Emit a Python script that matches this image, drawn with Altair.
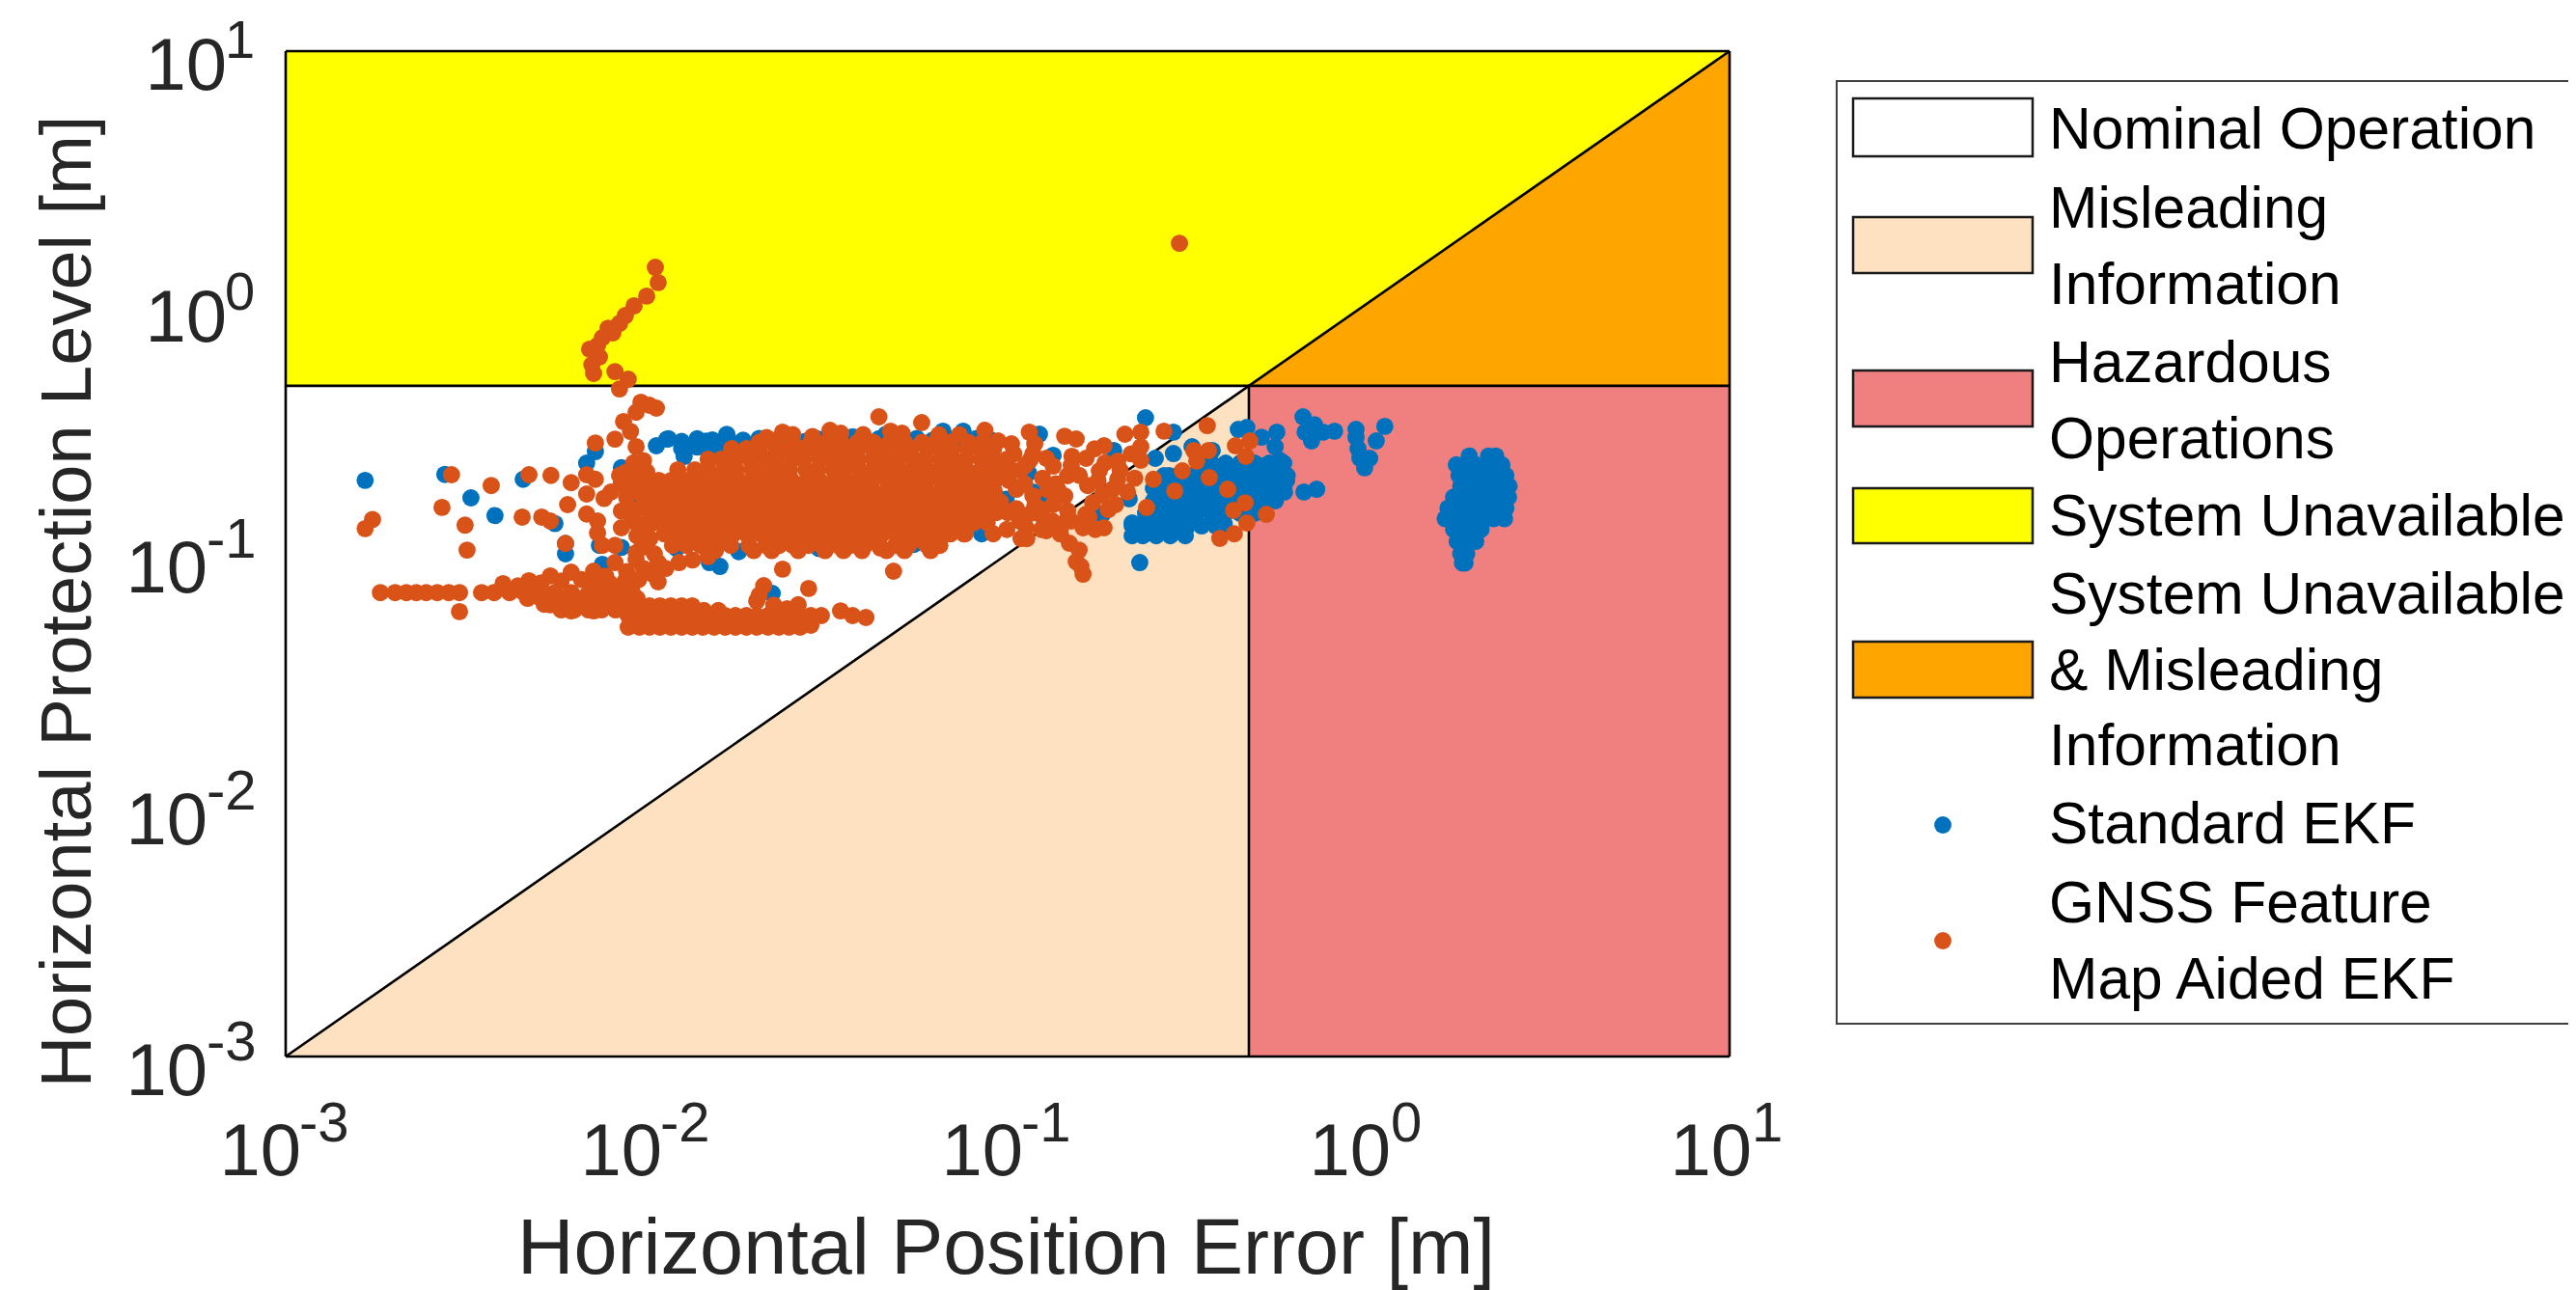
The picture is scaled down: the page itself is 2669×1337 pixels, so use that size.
import altair as alt
import pandas as pd

FONT = "Liberation Sans"
BLUE = "#0072BD"
RED = "#D95319"
DARK = "#262626"
LIMIT = 0.466
LOW, HIGH = 0.001, 10

ticks_neg = [0.001, 0.01, 0.1]
exps_neg = ["-3", "-2", "-1"]
ticks_pos = [1, 10]
exps_pos = ["0", "1"]

# Sparse points: Standard EKF (x, y)
ekf_xy = [
 (.00166,.196),(.00276,.207),(.00326,.167),(.0038,.142),(.00455,.198),(.00557,.132),(.00596,.1),(.00596,.11),
 (.0074,.108),(.00851,.106),(.00754,.0908),(.00682,.2296),(.00721,.255),(.00851,.22),(.01138,.286),(.01064,.269),
 (.01377,.274),(.0146,.281),(.01667,.299),(.0158,.274),(.0127,.244),(.01493,.0923),(.01596,.0891),(.02228,.0696),
 (.0351,.274),(.0372,.292),(.046,.299),(.0662,.3076),(.0753,.3076),(.1225,.2992),(.1337,.2466),(.1175,.1762),
 (.0847,.1202),(.01,.2),(.0095,.16),(.0121,.105),(.018,.102),(.03,.105),(.055,.109),
 (.1142,.21),(.099,.165),(.128,.16),(.1828,.1435),(.2172,.1656),(.1968,.2576),
 (.241,.3476),(.288,.3048),(.288,.2506),(.2565,.24),(.4355,.3126),(.46,.3184),(.505,.2912),(.557,.3048),
 (.551,.2667),(.5675,.2356),(.505,.2234),(.593,.1959),(.551,.198),(.585,.1762),(.5176,.1714),(.4745,.1807),
 (.5176,.157),(.4227,.21),(.376,.2234),(.4355,.1807),(.387,.198),(.3428,.21),(.3428,.1807),(.3048,.21),
 (.28,.2046),(.2565,.192),(.3048,.1807),(.28,.1714),(.2565,.1656),(.3243,.157),(.288,.1514),(.369,.1514),
 (.4227,.161),(.263,.139),(.3243,.1374),(.241,.135),(.2213,.1327),(.263,.1236),(.227,.1202),(.3013,.1315),
 (.398,.1315),(.49,.1514),(.2323,.0923),(.369,.2576),(.3243,.2667),
 (.658,.3508),(.708,.3266),(.667,.3048),(.695,.2812),(.748,.3048),(.805,.3076),(.923,.3126),(.923,.291),
 (1.05,.2812),(1.109,.3214),(.935,.2618),(1.007,.24),(.975,.2198),(.946,.24),(.718,.1807),(.662,.1762),
 (.0115,.287),(.0125,.28),(.0138,.287),(.0152,.284),(.0168,.288),(.0185,.283),(.0205,.288),(.0225,.281),(.025,.286),
 (.0275,.28),(.03,.286),(.033,.283),(.036,.288),(.04,.285),(.044,.287),(.05,.281),(.056,.288),(.062,.283),(.068,.288),
 (.075,.282),(.082,.288),(.09,.283),(.0125,.262),(.0138,.266),(.0152,.26),(.0168,.265),
]

# Blue clouds drawn as one list per HPL level
ekf_mid_y = [.2296, .2046, .1824, .1626, .1449, .1291, .118]
ekf_mid_x = [
 [.3664,.4018,.4406,.4831,.5309,.582],
 [.2712,.2955,.3232,.3531,.3862,.4224,.4619,.505,.5521,.595],
 [.2535,.278,.3048,.334,.3664,.4018,.4406,.4831,.5309,.582],
 [.2535,.2712,.2955,.3232,.3531,.3862,.4224,.4619,.505,.5521],
 [.241,.2535,.278,.3048,.334,.3664,.4018,.4406,.4831],
 [.2213,.241,.2632,.2876,.3151,.3447,.3772,.398],
 [.2213,.2368,.2581,.2822,.3106],
]
ekf_far_y = [.245, .226, .205, .186, .168, .152, .138, .125, .112, .10, .092]
ekf_far_x = [
 [1.9, 2.15, 2.25],
 [1.75, 1.85, 1.98, 2.1, 2.22, 2.34],
 [1.78, 1.9, 2.02, 2.14, 2.26, 2.4],
 [1.8, 1.92, 2.05, 2.17, 2.3, 2.45],
 [1.72, 1.84, 1.96, 2.08, 2.2, 2.33, 2.44],
 [1.66, 1.78, 1.9, 2.03, 2.15, 2.27, 2.4],
 [1.63, 1.74, 1.86, 1.98, 2.1, 2.22, 2.38],
 [1.72, 1.84, 1.96, 2.05],
 [1.76, 1.88, 1.98],
 [1.8, 1.87],
 [1.82, 1.85],
]

# Sparse points: GNSS Feature Map Aided EKF (x, y)
map_tail_xy = [
 (.01057,1.38),(.01076,1.2),(.01,1.06),(.00923,.97),(.00873,.887),(.00841,.826),(.00782,.79),(.00806,.757),
 (.00754,.724),(.00731,.675),(.00695,.652),(.0074,.607),(.00705,.565),(.00713,.522),(.00817,.531),(.00889,.495),
 (.00841,.453),(.00964,.401),(.01064,.38),(.01018,.39),(.00935,.366),(.00863,.336),(.00902,.307),(.00721,.276),
 (.00817,.286),(.00935,.267),(.2992,1.72),
]
map_left_xy = [
 (.00288,.2065),(.00371,.187),(.00271,.153),(.00314,.13),(.00318,.1035),(.00174,.137),(.00166,.126),(.00472,.2065),
 (.00543,.205),(.00618,.192),(.00452,.14),(.00512,.14),(.00541,.135),(.00604,.157),(.00596,.11),(.00682,.2065),
 (.00721,.198),(.00682,.173),(.00762,.166),(.00682,.144),(.00731,.135),(.00731,.121),(.00754,.108),(.00817,.108),
 (.00851,.127),(.00796,.176),(.00841,.205),(.00851,.148),(.00935,.101),(.00964,.198),(.00989,.171),(.0092,.23),
 (.0098,.235),(.009,.185),(.0094,.15),(.0098,.13),
 (.0087,.21),(.0093,.205),(.01,.212),(.0085,.19),(.0095,.188),(.0103,.19),(.0088,.168),(.0097,.172),(.0104,.165),
 (.0089,.152),(.0101,.148),(.0091,.135),(.0103,.132),(.0094,.118),(.0102,.115),(.0097,.106),(.0105,.1),
]
map_band_xy = [
 (.00183,.0701),(.00201,.0701),(.00216,.0701),(.0023,.0701),(.00245,.0701),(.00263,.0701),(.00283,.0701),(.00303,.0701),
 (.00303,.0589),(.00349,.0701),(.00378,.0701),(.00417,.0701),(.00457,.0701),(.00499,.0701),(.00557,.0701),(.00618,.0701),
 (.00692,.0701),(.0076,.0701),(.0083,.0705),(.0091,.0712),
 (.004,.0761),(.00472,.0782),(.00541,.0817),(.00618,.0845),(.00713,.0853),(.00817,.0923),(.00935,.0948),
 (.01076,.0923),(.0123,.0923),(.0044,.0745),(.0051,.0765),(.0058,.078),(.0066,.079),(.0077,.0815),(.0088,.085),(.0098,.0875),
 (.0072,.077),(.0079,.0765),(.0087,.0775),(.0095,.079),(.0104,.083),(.0113,.0875),(.0134,.0945),(.0148,.0975),
 (.00468,.0665),(.0051,.0665),(.0056,.0665),(.0061,.0665),(.0066,.0665),(.0072,.0665),(.0079,.0665),(.0086,.0665),(.0094,.0665),
 (.0052,.063),(.0057,.063),(.0062,.063),(.0068,.063),(.0074,.063),(.008,.063),(.0087,.063),
 (.0058,.0598),(.0063,.0598),(.0069,.0598),(.0075,.0598),(.0082,.0598),(.009,.0598),
 (.00541,.0627),(.00618,.0593),(.00713,.0593),(.00796,.0627),(.00692,.0648),(.00618,.0648),(.0054,.067),(.0062,.0675),(.0071,.067),(.0079,.0693),
 (.01076,.0774),(.00889,.0621),(.00955,.0621),(.01018,.0621),(.01088,.0621),(.01167,.0621),(.0125,.0621),(.01337,.0621),
 (.00889,.0568),(.00955,.0568),(.01018,.0568),(.01088,.0568),(.01167,.0568),(.0125,.0568),(.01337,.0568),(.0143,.0568),(.01538,.0568),
 (.0165,.0568),(.01762,.0568),(.0189,.0568),(.02018,.0568),(.0217,.0568),(.02323,.0568),(.0248,.0568),(.02661,.0568),(.0285,.0568),(.03048,.0568),
 (.00889,.0511),(.00955,.0511),(.01018,.0511),(.01088,.0511),(.01167,.0511),(.0125,.0511),(.01337,.0511),(.0143,.0511),(.01538,.0511),
 (.0165,.0511),(.01762,.0511),(.0189,.0511),(.02018,.0511),(.0217,.0511),(.02323,.0511),(.0248,.0511),(.02661,.0511),(.0285,.052),
 (.0144,.0595),(.0158,.0595),(.02018,.0649),(.0211,.0747),(.0263,.0627),(.0281,.0728),(.0238,.0869),(.0483,.0853),
 (.0205,.0685),(.0225,.0625),(.0245,.0605),(.03445,.0593),(.0372,.0568),(.0405,.0558),
]
map_right_xy = [
 (.044,.3508),(.0578,.3327),(.0474,.3076),(.0865,.31),(.1148,.3048),(.1439,.2938),(.1549,.2864),(.2113,.2992),
 (.2339,.3048),(.2712,.3076),(.3573,.3236),(.469,.2812),(.4276,.2692),(.457,.2443),(.36,.2576),(.328,.2576),
 (.334,.2339),(.3048,.2138),(.362,.201),(.407,.1807),(.2904,.1778),(.2427,.1528),(.455,.1596),(.4227,.149),
 (.521,.1436),(.46,.1327),(.4246,.1202),(.387,.1152),(.2535,.198),(.2339,.2667),(.2339,.2356),(.2018,.2339),
 (.185,.2692),(.1742,.2618),(.1507,.2444),(.1466,.2046),(.1667,.187),(.1828,.1714),(.2148,.1762),(.1991,.157),
 (.2018,.198),(.1795,.2138),(.1377,.1807),(.1337,.157),(.1225,.1514),(.1466,.1483),(.1648,.1436),(.185,.127),
 (.1618,.127),(.1419,.1315),(.128,.1236),(.1125,.127),(.1089,.1151),(.1057,.1514),(.1057,.1807),(.1153,.2356),
 (.1337,.2234),(.1189,.274),(.1025,.274),(.0941,.2812),(.1483,.1102),(.1578,.1035),(.1549,.0931),(.1618,.083),
 (.1596,.0891),(.0578,.1132),(.0444,.1055),(.0912,.1202),(.0762,.1202),(.1,.2),(.1,.235),(.1115,.19),(.125,.2),
 (.0215,.29),(.0238,.305),(.0254,.298),(.0288,.293),(.0322,.31),(.0345,.302),(.0398,.298),(.051,.302),(.0645,.298),(.0735,.298),
 (.1,.146),(.108,.135),(.1175,.17),(.129,.18),(.0995,.125),(.1085,.215),(.1175,.25),
 (.104,.25),(.112,.225),(.128,.24),(.136,.19),(.144,.17),(.15,.225),(.158,.205),(.165,.24),(.172,.16),(.178,.195),
 (.186,.23),(.19,.15),(.195,.18),(.116,.145),(.125,.14),(.133,.135),(.14,.12),(.15,.135),(.175,.125),(.168,.14),
 (.113,.115),(.124,.125),(.205,.215),(.22,.25),(.225,.2),(.119,.155),
]

# Dense core of the GNSS Feature Map Aided EKF cloud, one list per HPL level
core_y = [.278, .262, .238, .216, .196, .178, .161, .146, .133, .120, .108, .103]
core_x = [
 [.0205,.0228,.0254,.0285,.0315,.0345,.0384,.0425,.0472,.0518,.0579,.0632,.0695,.0778,.0852],
 [.0172,.0189,.0205,.0228,.0246,.0271,.0293,.0322,.0352,.0384,.0421,.0458,.0505,.0541,.0598,.0652,.0703,.0773,.0839,.0915],
 [.0148,.0161,.0176,.0193,.0213,.0229,.0253,.0272,.0301,.0325,.0358,.0386,.0425,.0462,.0498,.0549,.0592,.0651,.0706,.0768,.0845,.0912,.0995],
 [.0122,.0136,.0148,.0164,.0177,.0196,.0212,.0232,.0249,.0276,.0298,.0329,.0353,.0389,.0424,.0459,.0503,.0544,.0597,.0648,.0712,.0769,.0843,.0918,.101],
 [.0108,.0117,.0128,.0139,.0152,.0166,.018,.0197,.0214,.0234,.0252,.0278,.0301,.033,.0358,.0391,.0423,.0466,.0506,.0552,.0598,.0657,.0711,.0778,.0849,.0923,.1008],
 [.0105,.0114,.0125,.0136,.0149,.0162,.0178,.0193,.0211,.0229,.0251,.0273,.0298,.0326,.0354,.0388,.0421,.0461,.0501,.0549,.0596,.0651,.0708,.0772,.0841,.0918],
 [.0108,.0119,.0129,.0142,.0154,.0168,.0184,.02,.0219,.0238,.026,.0284,.0309,.0338,.0368,.0402,.0438,.0478,.0521,.0568,.062,.0676,.0737,.0804,.0876,.0955],
 [.0106,.0116,.0126,.0138,.015,.0164,.0179,.0195,.0213,.0232,.0253,.0276,.0301,.0328,.0358,.0391,.0426,.0465,.0507,.0553,.0603,.0658,.0717,.0782,.0853,.0931],
 [.011,.012,.0131,.0143,.0156,.017,.0186,.0202,.0221,.0241,.0262,.0286,.0312,.034,.0371,.0404,.0441,.048,.0524,.0571,.0622,.0678,.0739,.0806,.0878],
 [.0112,.0123,.0134,.0146,.0159,.0174,.0189,.0207,.0225,.0246,.0268,.0292,.0319,.0348,.0379,.0413,.045,.0491,.0535,.0584,.0637,.0694,.0757],
 [.0118,.0129,.0141,.0156,.0171,.0192,.0214,.0233,.0254,.0281,.0306,.0339,.0367,.0402,.0441,.0489,.0531,.0598,.0649],
 [.0155,.0198,.0222,.0263,.0312,.0351,.0395,.0462,.0518,.0612],
]


def rows(levels, columns):
    return [(x, y) for y, row in zip(levels, columns) for x in row]


ekf_points = ekf_xy + rows(ekf_mid_y, ekf_mid_x) + rows(ekf_far_y, ekf_far_x)
map_points = map_tail_xy + map_left_xy + map_band_xy + rows(core_y, core_x) + map_right_xy

x_enc = alt.X("x:Q", scale=alt.Scale(type="log", domain=[LOW, HIGH], nice=False),
              axis=alt.Axis(values=ticks_neg + ticks_pos, labels=False, grid=False, ticks=False, domain=False,
                            title="Horizontal Position Error [m]", titleFont=FONT, titleFontSize=81,
                            titleFontWeight="normal", titleColor=DARK, titleBaseline="alphabetic",
                            titleX=746, titleY=224))
y_enc = alt.Y("y:Q", scale=alt.Scale(type="log", domain=[LOW, HIGH], nice=False),
              axis=alt.Axis(values=ticks_neg + ticks_pos, labels=False, grid=False, ticks=False, domain=False,
                            title="Horizontal Protection Level [m]", titleFont=FONT, titleFontSize=74,
                            titleFontWeight="normal", titleColor=DARK, titleBaseline="alphabetic",
                            titleX=-203, titleY=570))


def rect(x0, x1, y0, y1, color):
    d = pd.DataFrame({"x": [x0], "x2": [x1], "y": [y0], "y2": [y1]})
    return alt.Chart(d).mark_rect(fill=color).encode(x=x_enc, x2="x2:Q", y=y_enc, y2="y2:Q")


def wedge(xs, ys, base, color):
    d = pd.DataFrame({"x": xs, "y": ys, "y2": [base, base]})
    return alt.Chart(d).mark_area(fill=color, line=False).encode(x=x_enc, y=y_enc, y2="y2:Q")


def edge(xs, ys):
    d = pd.DataFrame({"x": xs, "y": ys})
    return alt.Chart(d).mark_line(color="black", strokeWidth=2.6).encode(x=x_enc, y=y_enc)


def cloud(points, color):
    d = pd.DataFrame(points, columns=["x", "y"])
    return alt.Chart(d).mark_circle(color=color, size=320, opacity=1).encode(x=x_enc, y=y_enc)


def labels(field, values, texts, size, dx, dy, align):
    if field == "x":
        d = pd.DataFrame({"x": values, "y": [LOW] * len(values), "t": texts})
    else:
        d = pd.DataFrame({"x": [LOW] * len(values), "y": values, "t": texts})
    return alt.Chart(d).mark_text(font=FONT, fontSize=size, color=DARK, dx=dx, dy=dy, align=align,
                                  baseline="alphabetic").encode(x=x_enc, y=y_enc, text="t:N")


layers = [
    rect(LOW, HIGH, LIMIT, HIGH, "#FFFF00"),
    wedge([LOW, LIMIT], [LOW, LIMIT], LOW, "#FDE1C1"),
    wedge([LIMIT, HIGH], [LIMIT, HIGH], LIMIT, "#FFA500"),
    rect(LIMIT, HIGH, LOW, LIMIT, "#F08080"),
    edge([LOW, HIGH], [LOW, HIGH]),
    edge([LOW, HIGH], [LIMIT, LIMIT]),
    edge([LIMIT, LIMIT], [LOW, LIMIT]),
    edge([LOW, LOW], [LOW, HIGH]),
    edge([HIGH, HIGH], [LOW, HIGH]),
    edge([LOW, HIGH], [LOW, LOW]),
    edge([LOW, HIGH], [HIGH, HIGH]),
    cloud(ekf_points, BLUE),
    cloud(map_points, RED),
    labels("x", ticks_neg, ["10"] * 3, 76, 16, 123, "right"),
    labels("x", ticks_neg, exps_neg, 58, 14, 88, "left"),
    labels("x", ticks_pos, ["10"] * 2, 76, 23, 123, "right"),
    labels("x", ticks_pos, exps_pos, 58, 23, 88, "left"),
    labels("y", ticks_neg, ["10"] * 3, 76, -81, 40, "right"),
    labels("y", ticks_neg, exps_neg, 58, -82, 4, "left"),
    labels("y", ticks_pos, ["10"] * 2, 76, -61, 40, "right"),
    labels("y", ticks_pos, exps_pos, 56, -63, 7, "left"),
]

# Legend, placed in page pixels relative to the plot origin
OX, OY = 296, 53
legend_patches = [
    ("Nominal Operation", "#FFFFFF", 102, 162),
    ("Misleading Information", "#FDE1C1", 225, 283),
    ("Hazardous Operations", "#F08080", 384, 442),
    ("System Unavailable", "#FFFF00", 506, 563),
    ("System Unavailable & Misleading Information", "#FFA500", 665, 723),
]
legend_lines = [
    ("Nominal Operation", 136), ("Misleading", 218), ("Information", 297), ("Hazardous", 378),
    ("Operations", 457), ("System Unavailable", 537), ("System Unavailable", 618),
    ("& Misleading", 697), ("Information", 775), ("Standard EKF", 856), ("GNSS Feature", 938),
    ("Map Aided EKF", 1017),
]
legend_dots = [("Standard EKF", BLUE, 855), ("GNSS Feature Map Aided EKF", RED, 975)]

layers.append(
    alt.Chart(pd.DataFrame({"name": ["legend"]})).mark_rect(fill="white", stroke="#404040", strokeWidth=2).encode(
        x=alt.value(1903 - OX), x2=alt.value(2720 - OX), y=alt.value(84 - OY), y2=alt.value(1061 - OY))
)
for name, color, top, bottom in legend_patches:
    layers.append(
        alt.Chart(pd.DataFrame({"name": [name]})).mark_rect(fill=color, stroke="#1a1a1a", strokeWidth=2.5).encode(
            x=alt.value(1920 - OX), x2=alt.value(2106 - OX), y=alt.value(top - OY), y2=alt.value(bottom - OY))
    )
for name, color, cy in legend_dots:
    layers.append(
        alt.Chart(pd.DataFrame({"name": [name]})).mark_circle(color=color, size=320, opacity=1).encode(
            x=alt.value(2013 - OX), y=alt.value(cy - OY))
    )
for text, cy in legend_lines:
    layers.append(
        alt.Chart(pd.DataFrame({"t": [text]})).mark_text(font=FONT, fontSize=60.5, color="black", align="left",
                                                         baseline="middle").encode(
            x=alt.value(2123 - OX), y=alt.value(cy - OY), text="t:N")
    )

chart = alt.layer(*layers).properties(
    width=1496, height=1042,
    autosize=alt.AutoSizeParams(type="none"),
    padding={"left": 288, "top": 45, "right": 869, "bottom": 242},
).configure_view(stroke=None).configure(background="white")

chart.save("out.html", embed_options={"renderer": "svg", "actions": False})
